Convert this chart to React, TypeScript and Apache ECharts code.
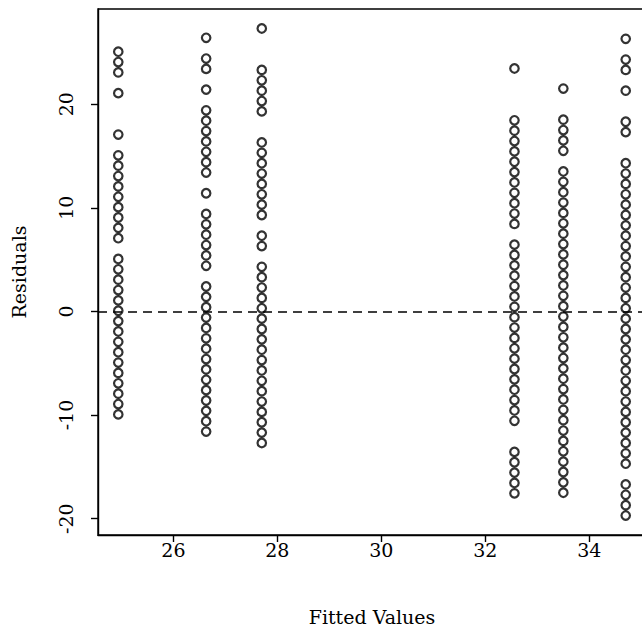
import React, { useEffect, useRef } from "react";
import * as echarts from "echarts";

// Fitted values (one per column of points)
const fittedValues = [24.94, 26.63, 27.7, 32.56, 33.5, 34.7];

// Residuals, one list per fitted value
const residuals1 = [25.06, 24.06, 23.06, 21.06, 17.06, 15.06, 14.06, 13.06, 12.06, 11.06, 10.06, 9.06, 8.06, 7.06, 5.06, 4.06, 3.06, 2.06, 1.06, 0.06, -0.94, -1.94, -2.94, -3.94, -4.94, -5.94, -6.94, -7.94, -8.94, -9.94];
const residuals2 = [26.4, 24.4, 23.4, 21.4, 19.4, 18.4, 17.4, 16.4, 15.4, 14.4, 13.4, 11.4, 9.4, 8.4, 7.4, 6.4, 5.4, 4.4, 2.4, 1.4, 0.4, -0.6, -1.6, -2.6, -3.6, -4.6, -5.6, -6.6, -7.6, -8.6, -9.6, -10.6, -11.6];
const residuals3 = [27.3, 23.3, 22.3, 21.3, 20.3, 19.3, 16.3, 15.3, 14.3, 13.3, 12.3, 11.3, 10.3, 9.3, 7.3, 6.3, 4.3, 3.3, 2.3, 1.3, 0.3, -0.7, -1.7, -2.7, -3.7, -4.7, -5.7, -6.7, -7.7, -8.7, -9.7, -10.7, -11.7, -12.7];
const residuals4 = [23.44, 18.44, 17.44, 16.44, 15.44, 14.44, 13.44, 12.44, 11.44, 10.44, 9.44, 8.44, 6.44, 5.44, 4.44, 3.44, 2.44, 1.44, 0.44, -0.56, -1.56, -2.56, -3.56, -4.56, -5.56, -6.56, -7.56, -8.56, -9.56, -10.56, -13.56, -14.56, -15.56, -16.56, -17.56];
const residuals5 = [21.5, 18.5, 17.5, 16.5, 15.5, 13.5, 12.5, 11.5, 10.5, 9.5, 8.5, 7.5, 6.5, 5.5, 4.5, 3.5, 2.5, 1.5, 0.5, -0.5, -1.5, -2.5, -3.5, -4.5, -5.5, -6.5, -7.5, -8.5, -9.5, -10.5, -11.5, -12.5, -13.5, -14.5, -15.5, -16.5, -17.5];
const residuals6 = [26.3, 24.3, 23.3, 21.3, 18.3, 17.3, 14.3, 13.3, 12.3, 11.3, 10.3, 9.3, 8.3, 7.3, 6.3, 5.3, 4.3, 3.3, 2.3, 1.3, 0.3, -0.7, -1.7, -2.7, -3.7, -4.7, -5.7, -6.7, -7.7, -8.7, -9.7, -10.7, -11.7, -12.7, -13.7, -14.7, -16.7, -17.7, -18.7, -19.7];

const residualGroups = [residuals1, residuals2, residuals3, residuals4, residuals5, residuals6];

const xTicks = [26, 28, 30, 32, 34];
const yTicks = [-20, -10, 0, 10, 20];

const FONT = "DejaVu Serif";

export default function App() {
  const ref = useRef<HTMLDivElement>(null);

  useEffect(() => {
    if (!ref.current) return;
    const chart = echarts.init(ref.current, null, { renderer: "svg" });
    const points: number[][] = [];
    residualGroups.forEach((grp, i) => {
      grp.forEach((r) => points.push([fittedValues[i], r]));
    });
    const textStyle = { color: "#000", fontFamily: FONT, fontSize: 19 };
    chart.setOption({
      animation: false,
      backgroundColor: "#fff",
      grid: {
        left: 98,
        top: 9,
        width: 548,
        height: 526,
        show: true,
        borderColor: "#000",
        borderWidth: 1.4,
        backgroundColor: "transparent",
      },
      xAxis: {
        type: "value",
        min: 24.55,
        max: 35.09,
        splitLine: { show: false },
        axisLine: { show: true, onZero: false, lineStyle: { color: "#000", width: 1.4 } },
        axisTick: {
          show: true,
          inside: false,
          length: 7,
          customValues: xTicks,
          lineStyle: { color: "#000", width: 1.4 },
        },
        axisLabel: { customValues: xTicks, margin: 5, ...textStyle },
        name: "Fitted Values",
        nameLocation: "middle",
        nameGap: 72,
        nameTextStyle: textStyle,
      },
      yAxis: {
        type: "value",
        min: -21.58,
        max: 29.18,
        splitLine: { show: false },
        axisLine: { show: true, onZero: false, lineStyle: { color: "#000", width: 1.4 } },
        axisTick: {
          show: true,
          inside: false,
          length: 7,
          customValues: yTicks,
          lineStyle: { color: "#000", width: 1.4 },
        },
        axisLabel: { customValues: yTicks, margin: 23, rotate: 90, ...textStyle },
        name: "Residuals",
        nameLocation: "middle",
        nameGap: 70,
        nameTextStyle: textStyle,
      },
      series: [
        {
          type: "scatter",
          data: points,
          symbol: "circle",
          symbolSize: 8.5,
          itemStyle: { color: "transparent", borderColor: "#000", borderWidth: 2.2 },
          markLine: {
            silent: true,
            symbol: ["none", "none"],
            label: { show: false },
            lineStyle: { type: [9, 6], color: "#000", width: 1.5 },
            data: [{ yAxis: 0 }],
          },
        },
      ],
    });
    return () => chart.dispose();
  }, []);

  return (
    <div
      style={{
        position: "fixed",
        left: 0,
        top: 0,
        width: 642,
        height: 632,
        overflow: "hidden",
        background: "#fff",
      }}
    >
      <div ref={ref} style={{ width: 660, height: 632 }} />
    </div>
  );
}
